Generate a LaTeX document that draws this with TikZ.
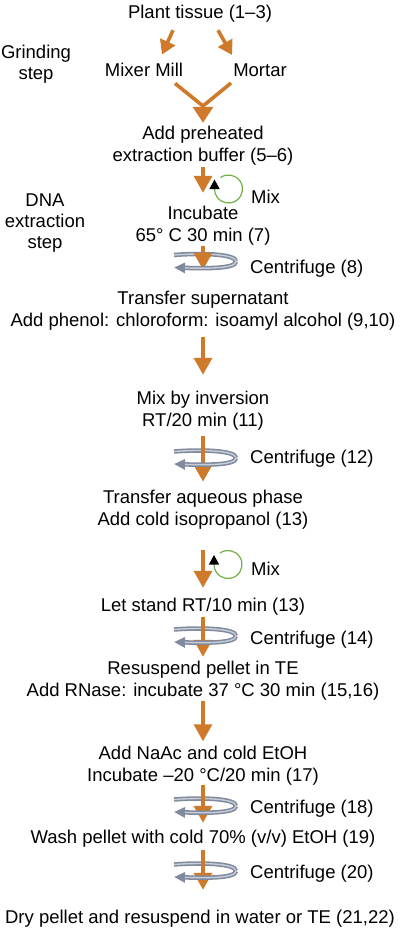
\documentclass[tikz,border=0pt]{standalone}
\usepackage{fontspec}
\setmainfont{Liberation Sans}
\usepackage{tikz}
\usetikzlibrary{arrows.meta}
\usetikzlibrary{positioning}
\definecolor{FlowOrange}{RGB}{207,121,42}
\definecolor{SpinGray}{RGB}{128,138,156}
\definecolor{SpinLight}{RGB}{200,206,217}
\definecolor{MixGreen}{RGB}{112,178,72}
\newcommand{\SpinBack}{(-29,6.5) .. controls (-5,8.5) and (33,8) .. (33,0)}
\newcommand{\SpinFront}{(33,0) .. controls (33,-7.5) and (0,-7) .. (-29,-6)}

\begin{document}
\begin{tikzpicture}[x=1pt, y=1pt, >={Triangle[length=17pt,width=18pt]},
    every node/.style={font=\fontsize{18.5}{22}\selectfont, align=center, inner sep=0pt},
    side/.style={font=\fontsize{18.5}{21}\selectfont},
    flow/.style={->, draw=FlowOrange, line width=3.6pt},
    shaft/.style={draw=FlowOrange, line width=3.6pt},
    spin/.style={draw=SpinGray, line width=4.5pt},
    spinhi/.style={draw=SpinLight, line width=1.4pt},
    stir/.style={draw=MixGreen, line width=1.2pt, -{Triangle[length=9.5pt,width=10pt,color=black]}}]
    \useasboundingbox (0,0) rectangle (400,-928);
    % steps
    \node (plant) at (200,-14) {Plant tissue (1--3)};
    \node[side] (grind) at (36,-64) {Grinding\\step};
    \node (mill) at (144,-70) {Mixer Mill};
    \node (mortar) at (260,-70) {Mortar};
    \node (buffer) at (203,-146) {Add preheated\\extraction buffer (5--6)};
    \node[side] (dna) at (45,-223.5) {DNA\\extraction\\step};
    \node (incubate) at (203,-226) {Incubate\\65° C 30 min (7)};
    \node (transfer) at (203,-311) {Transfer supernatant\\Add phenol: chloroform: isoamyl alcohol (9,10)};
    \node (inversion) at (203,-411) {Mix by inversion\\RT/20 min (11)};
    \node (aqueous) at (203,-509.5) {Transfer aqueous phase\\Add cold isopropanol (13)};
    \node (stand) at (203,-607) {Let stand RT/10 min (13)};
    \node (resuspend) at (203,-681) {Resuspend pellet in TE\\Add RNase: incubate 37 °C 30 min (15,16)};
    \node (naac) at (203,-765.5) {Add NaAc and cold EtOH\\Incubate --20 °C/20 min (17)};
    \node (wash) at (203,-839) {Wash pellet with cold 70\% (v/v) EtOH (19)};
    \node (dry) at (200,-919) {Dry pellet and resuspend in water or TE (21,22)};
    % side notes
    \node[anchor=west] (mix1) at (251,-197) {Mix};
    \node[anchor=west] (spin8) at (250,-269) {Centrifuge (8)};
    \node[anchor=west] (spin12) at (250,-459) {Centrifuge (12)};
    \node[anchor=west] (mix2) at (251,-569) {Mix};
    \node[anchor=west] (spin14) at (250,-640) {Centrifuge (14)};
    \node[anchor=west] (spin18) at (250,-809) {Centrifuge (18)};
    \node[anchor=west] (spin20) at (250,-874) {Centrifuge (20)};
    % rotor, back half
    \foreach \cy in {-261.5,-458,-636,-806,-871} {
      \begin{scope}[shift={(203,\cy)}]
        \draw[spin] \SpinBack;
        \draw[spinhi] \SpinBack;
      \end{scope}
    }
    % arrows
    \draw[flow, -{Triangle[length=14pt,width=16pt]}] ([xshift=-27pt,yshift=-7.4pt]plant.south) -- ([xshift=18pt,yshift=8.4pt]mill.north);
    \draw[flow, -{Triangle[length=14pt,width=16pt]}] ([xshift=18pt,yshift=-7.4pt]plant.south) -- ([xshift=-28pt,yshift=8.4pt]mortar.north);
    \coordinate (join) at (203,-106);
    \draw[shaft] ([xshift=31pt,yshift=-6.4pt]mill.south) -- (join);
    \draw[shaft] ([xshift=-29pt,yshift=-6.4pt]mortar.south) -- (join);
    \draw[flow, -{Triangle[length=16pt,width=20pt]}, shorten >=3.4pt] (join) -- (buffer);
    \draw[flow, shorten <=1.4pt, shorten >=13.4pt] (buffer) -- (incubate);
    \draw[flow, shorten >=21.4pt] (incubate) -- (transfer);
    \draw[flow, shorten <=6pt, shorten >=16.4pt] (transfer) -- (inversion);
    \draw[flow, shorten <=5.5pt, shorten >=8pt] (inversion) -- (aqueous);
    \draw[flow, shorten <=21pt, shorten >=10.4pt] (aqueous) -- (stand);
    \draw[flow, shorten <=1.5pt, shorten >=4.4pt] (stand) -- (resuspend);
    \draw[flow, shorten >=4.4pt] (resuspend) -- (naac);
    \draw[flow, shorten >=7.4pt] (naac) -- (wash);
    \draw[flow, shorten <=2.5pt, shorten >=20.4pt] (wash) -- (wash |- dry.north);
    % rotor, front half
    \foreach \cy in {-261.5,-458,-636,-806,-871} {
      \begin{scope}[shift={(203,\cy)}]
        \draw[spin, -{Triangle[length=11pt,width=10pt]}] \SpinFront;
        \draw[spinhi, shorten >=11pt] \SpinFront;
      \end{scope}
    }
    % mixing
    \draw[stir] (228.5,-189) ++(125:14) arc[start angle=125, end angle=-180, radius=14] -- ++(0,9.5);
    \draw[stir] (228,-564.5) ++(125:14) arc[start angle=125, end angle=-180, radius=14] -- ++(0,9.5);
\end{tikzpicture}
\end{document}
